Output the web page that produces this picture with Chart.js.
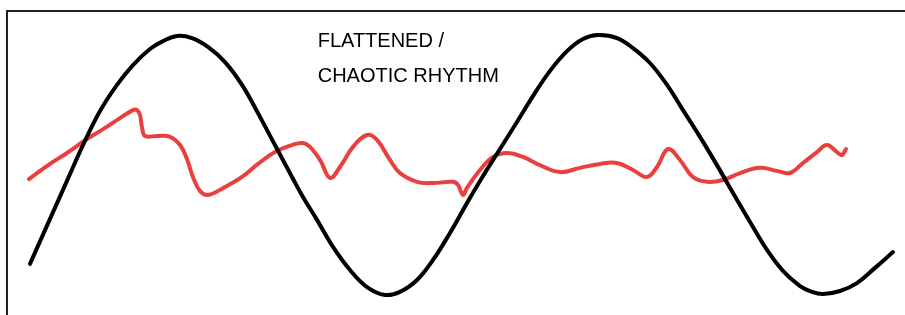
<!DOCTYPE html>
<html>
<head>
<meta charset="utf-8">
<script src="https://cdn.jsdelivr.net/npm/chart.js@4/dist/chart.umd.min.js"></script>
<style>
    html, body { margin: 0; padding: 0; background: #fff; }
    #wrap { position: relative; width: 905px; height: 315px; }
</style>
</head>
<body>
<div id="wrap"><canvas id="rhythm-chart"></canvas></div>
<script>
// Normal rhythm (black wave): x = % of width, y = % of height
const normalX = [2.56, 4.79, 6.68, 8.46, 10.36, 12.25, 14.03, 15.92, 17.37, 18.93, 20.60, 22.38, 24.28, 26.17, 27.95, 29.84, 31.74, 32.96,
    34.52, 36.30, 38.20, 40.09, 42.09, 43.76, 45.66, 47.44, 49.33, 51.22, 53.01, 54.90, 56.79, 58.57, 60.47, 62.36, 64.14, 65.81,
    67.93, 69.71, 71.60, 73.50, 75.28, 77.17, 79.06, 80.85, 82.74, 84.63, 86.41, 88.31, 89.64, 90.87, 92.76, 94.65, 96.66, 98.66];
const normalY = [16.8, 31.6, 44.1, 55.9, 67.1, 75.7, 82.2, 87.5, 90.1, 91.8, 91.1, 88.2, 83.2, 75.7, 66.4, 55.9, 45.4, 38.8,
    31.3, 22.4, 14.8, 9.2, 6.6, 7.6, 11.5, 18.1, 27.0, 36.8, 45.7, 54.6, 63.5, 72.0, 80.3, 86.8, 90.8, 92.1,
    91.1, 87.8, 82.9, 75.7, 67.4, 58.6, 49.3, 40.1, 30.6, 21.4, 14.5, 9.5, 7.6, 6.9, 7.9, 10.5, 15.5, 20.7];

// Flattened / chaotic rhythm (red wave)
const chaoticX = [2.45, 4.79, 6.68, 8.91, 10.36, 12.25, 14.03, 14.48, 14.81, 15.03, 15.37, 16.70, 18.15, 19.27, 20.04, 20.71,
    21.49, 22.38, 24.28, 26.17, 27.95, 29.84, 31.74, 32.96, 33.74, 34.86, 35.97, 37.08, 38.53, 40.09, 41.20, 42.65, 43.76,
    45.66, 47.44, 49.67, 50.22, 50.78, 51.22, 52.67, 54.12, 55.68, 57.46, 59.35, 61.58, 63.81, 66.04, 67.93, 69.71, 71.27,
    72.38, 73.61, 74.94, 76.39, 77.95, 79.73, 81.63, 83.85, 85.75, 87.19, 88.64, 90.20, 91.31, 92.43, 92.98, 93.43];
const chaoticY = [44.7, 49.7, 53.3, 57.9, 60.5, 64.1, 67.4, 67.4, 65.8, 61.8, 58.9, 58.9, 58.6, 55.9, 51.3, 45.4,
    40.8, 39.5, 42.1, 45.4, 49.7, 53.6, 55.9, 56.6, 55.3, 51.0, 45.1, 48.7, 55.3, 59.2, 57.6, 51.0, 46.7,
    43.8, 43.4, 43.8, 42.8, 39.5, 41.8, 47.7, 52.0, 53.3, 52.0, 49.3, 47.0, 48.4, 49.7, 50.0, 47.7, 45.4,
    48.7, 54.6, 51.0, 45.4, 43.8, 44.4, 46.7, 48.4, 47.4, 46.7, 50.0, 53.6, 55.9, 53.6, 52.6, 54.6];

const labelLines = ['FLATTENED /', 'CHAOTIC RHYTHM'];

function toPoints(xs, ys) {
    return xs.map(function(x, i) { return { x: x, y: ys[i] }; });
}

// Draw the text label inside the plot
const labelPlugin = {
    id: 'rhythmLabel',
    afterDatasetsDraw: function(chart, args, opts) {
        const ctx = chart.ctx;
        const x = chart.scales.x.getPixelForValue(opts.x);
        const y = chart.scales.y.getPixelForValue(opts.y);
        ctx.save();
        ctx.font = '20px "Liberation Sans", Arial, sans-serif';
        ctx.fillStyle = '#000';
        ctx.textBaseline = 'alphabetic';
        ctx.textAlign = 'left';
        labelLines.forEach(function(line, i) {
            ctx.fillText(line, x, y + i * opts.lineGap);
        });
        ctx.restore();
    }
};

new Chart(document.getElementById('rhythm-chart'), {
    type: 'line',
    data: {
        datasets: [
            {
                label: 'Normal rhythm',
                data: toPoints(normalX, normalY),
                borderColor: '#000000',
                borderWidth: 4,
                tension: 0.4,
                pointRadius: 0,
                borderCapStyle: 'round',
                borderJoinStyle: 'round',
                fill: false
            },
            {
                label: 'Flattened / chaotic rhythm',
                data: toPoints(chaoticX, chaoticY),
                borderColor: '#e9403e',
                borderWidth: 4,
                tension: 0.4,
                pointRadius: 0,
                borderCapStyle: 'round',
                borderJoinStyle: 'round',
                fill: false
            }
        ]
    },
    options: {
        responsive: true,
        maintainAspectRatio: false,
        animation: false,
        layout: { padding: { left: 7, top: 11, right: 0, bottom: 0 } },
        plugins: {
            legend: { display: false },
            tooltip: { enabled: false },
            rhythmLabel: { x: 34.6, y: 88.2, lineGap: 35 }
        },
        scales: {
            x: {
                type: 'linear',
                position: 'top',
                min: 0,
                max: 100,
                ticks: { display: false },
                grid: { display: false, drawTicks: false },
                border: { display: true, color: '#222222', width: 2 }
            },
            y: {
                type: 'linear',
                position: 'left',
                min: 0,
                max: 100,
                ticks: { display: false },
                grid: { display: false, drawTicks: false },
                border: { display: true, color: '#222222', width: 2 }
            }
        }
    },
    plugins: [labelPlugin]
});
</script>
</body>
</html>
